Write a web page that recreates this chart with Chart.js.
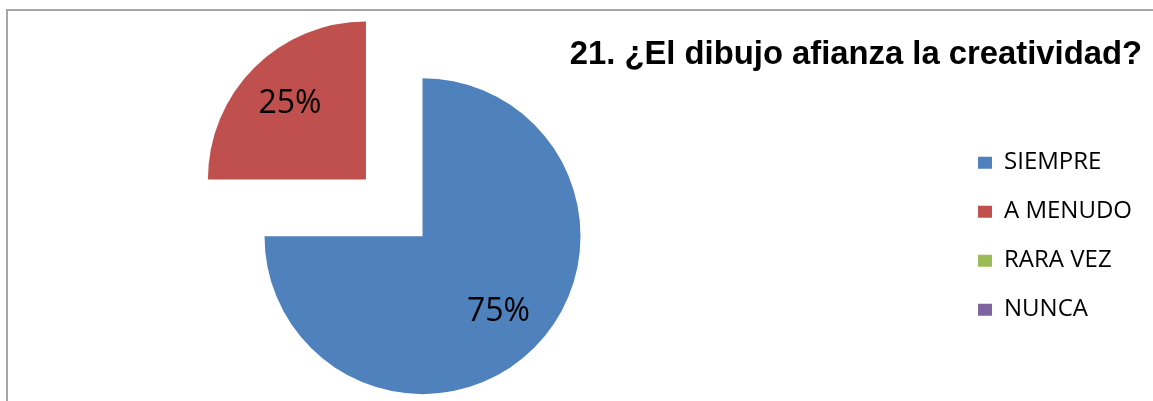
<!DOCTYPE html>
<html>
<head>
<meta charset="utf-8">
<title>21. ¿El dibujo afianza la creatividad?</title>
<script src="https://cdn.jsdelivr.net/npm/chart.js@4.4.0/dist/chart.umd.min.js"></script>
<style>
  html, body { margin: 0; padding: 0; background: #fff; overflow: hidden; }
  #page { position: relative; width: 1153px; height: 401px; overflow: hidden; }
  #frame { position: absolute; left: 6px; top: 9px; right: 0; bottom: 0;
           border-left: 2px solid #a6a6a6; border-top: 2px solid #a6a6a6; }
  /* canvas is a bit wider than the page so the pie sits left of centre */
  #wrap { position: absolute; left: -108px; top: 0; width: 1261px; height: 401px; }
</style>
</head>
<body>
<div id="page">
  <div id="frame"></div>
  <div id="wrap"><canvas id="pieChart"></canvas></div>
</div>
<script>
// chart data
var categories = ['SIEMPRE', 'A MENUDO', 'RARA VEZ', 'NUNCA'];
var values = [75, 25, 0, 0];
var sliceColors = ['#4F81BD', '#C0504D', '#9BBB59', '#8064A2'];
var explode = [0, 320, 0, 0]; // arc offset option (drawn as offset / 4)
var chartTitle = '21. ¿El dibujo afianza la creatividad?';

// percentage labels inside the slices
var percentPlugin = {
    id: 'percentLabels',
    afterDatasetsDraw: function(chart) {
        var ctx = chart.ctx;
        var meta = chart.getDatasetMeta(0);
        var data = chart.data.datasets[0].data;
        var total = data.reduce(function(a, b) { return a + b; }, 0);
        ctx.save();
        ctx.font = '32px "Open Sans"';
        ctx.fillStyle = '#000';
        ctx.textAlign = 'center';
        ctx.textBaseline = 'middle';
        meta.data.forEach(function(arc, i) {
            if (!data[i]) return;
            var p = arc.getProps(['x', 'y', 'startAngle', 'endAngle', 'outerRadius']);
            var mid = (p.startAngle + p.endAngle) / 2;
            var shift = (arc.options.offset || 0) / 4;
            var d = shift + p.outerRadius * 0.68;
            var pct = Math.round(data[i] / total * 100) + '%';
            ctx.fillText(pct, p.x + Math.cos(mid) * d, p.y + Math.sin(mid) * d);
        });
        ctx.restore();
    }
};

var ctx = document.getElementById('pieChart');
var pieChart = new Chart(ctx, {
    type: 'pie',
    data: {
        labels: categories,
        datasets: [{
            data: values,
            backgroundColor: sliceColors,
            borderWidth: 0,
            offset: explode,
            radius: 158
        }]
    },
    options: {
        responsive: true,
        maintainAspectRatio: false,
        animation: false,
        layout: {
            padding: { left: 0, right: 11, top: 0, bottom: 0 }
        },
        plugins: {
            title: {
                display: true,
                text: chartTitle,
                align: 'end',
                color: '#000',
                font: { family: '"Liberation Sans", Arial, sans-serif', size: 32.8, weight: 'bold', lineHeight: 1 },
                padding: { top: 38.5, bottom: 0 }
            },
            legend: {
                position: 'right',
                fullSize: false,
                labels: {
                    color: '#000',
                    boxWidth: 14,
                    boxHeight: 12,
                    padding: 25,
                    font: { family: '"Open Sans"', size: 24 }
                }
            },
            tooltip: { enabled: false }
        }
    },
    plugins: [percentPlugin]
});
</script>
</body>
</html>
